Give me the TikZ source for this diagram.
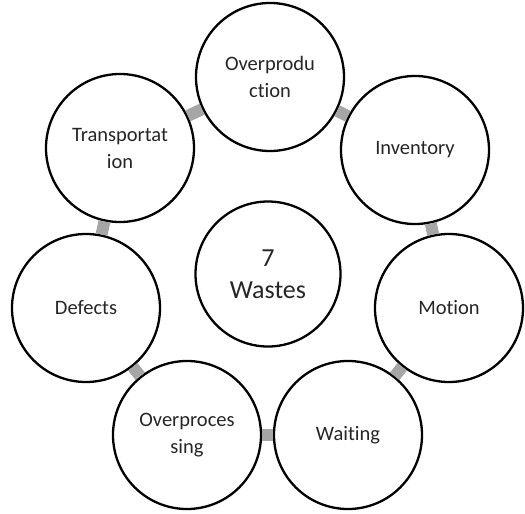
\documentclass[tikz,border=0pt]{standalone}
\usepackage{fontspec}
\setmainfont{Carlito}[Ligatures=NoCommon]
\usepackage{xcolor}
\usepackage{tikz}
\definecolor{linkgray}{RGB}{166,166,166}
\definecolor{textgray}{RGB}{38,38,38}

\begin{document}
\begin{tikzpicture}[x=1pt,y=-1pt,
    waste/.style={circle,draw=black,line width=2.3pt,fill=white,inner sep=0pt,
      minimum size=148pt,align=center,text=textgray,font=\fontsize{20.5}{27}\selectfont},
    hub/.style={waste,minimum size=145pt,font=\fontsize{26}{32}\selectfont},
    link/.style={linkgray,line width=12pt}]
      \useasboundingbox (0,0) rectangle (525,514);
      % ring of seven wastes, pixel coordinates of the centres
      \node[waste] (over)  at (270,77)  {Overprodu\\ction};
      \node[waste] (inv)   at (415,150) {Inventory};
      \node[waste] (mot)   at (449,308) {Motion};
      \node[waste] (wait)  at (348,435) {Waiting};
      \node[waste] (proc)  at (187,435) {Overproces\\sing};
      \node[waste] (def)   at (86,308)  {Defects};
      \node[waste] (trans) at (120,148) {Transportat\\ion};
      % centre
      \node[hub] (wastes) at (268,274) {7\\Wastes};
      % grey links between neighbours
      \foreach \a/\b in {over/inv, inv/mot, mot/wait, wait/proc, proc/def, def/trans, trans/over} {
        \draw[link] (\a) -- (\b);
      }
    \end{tikzpicture}
\end{document}
